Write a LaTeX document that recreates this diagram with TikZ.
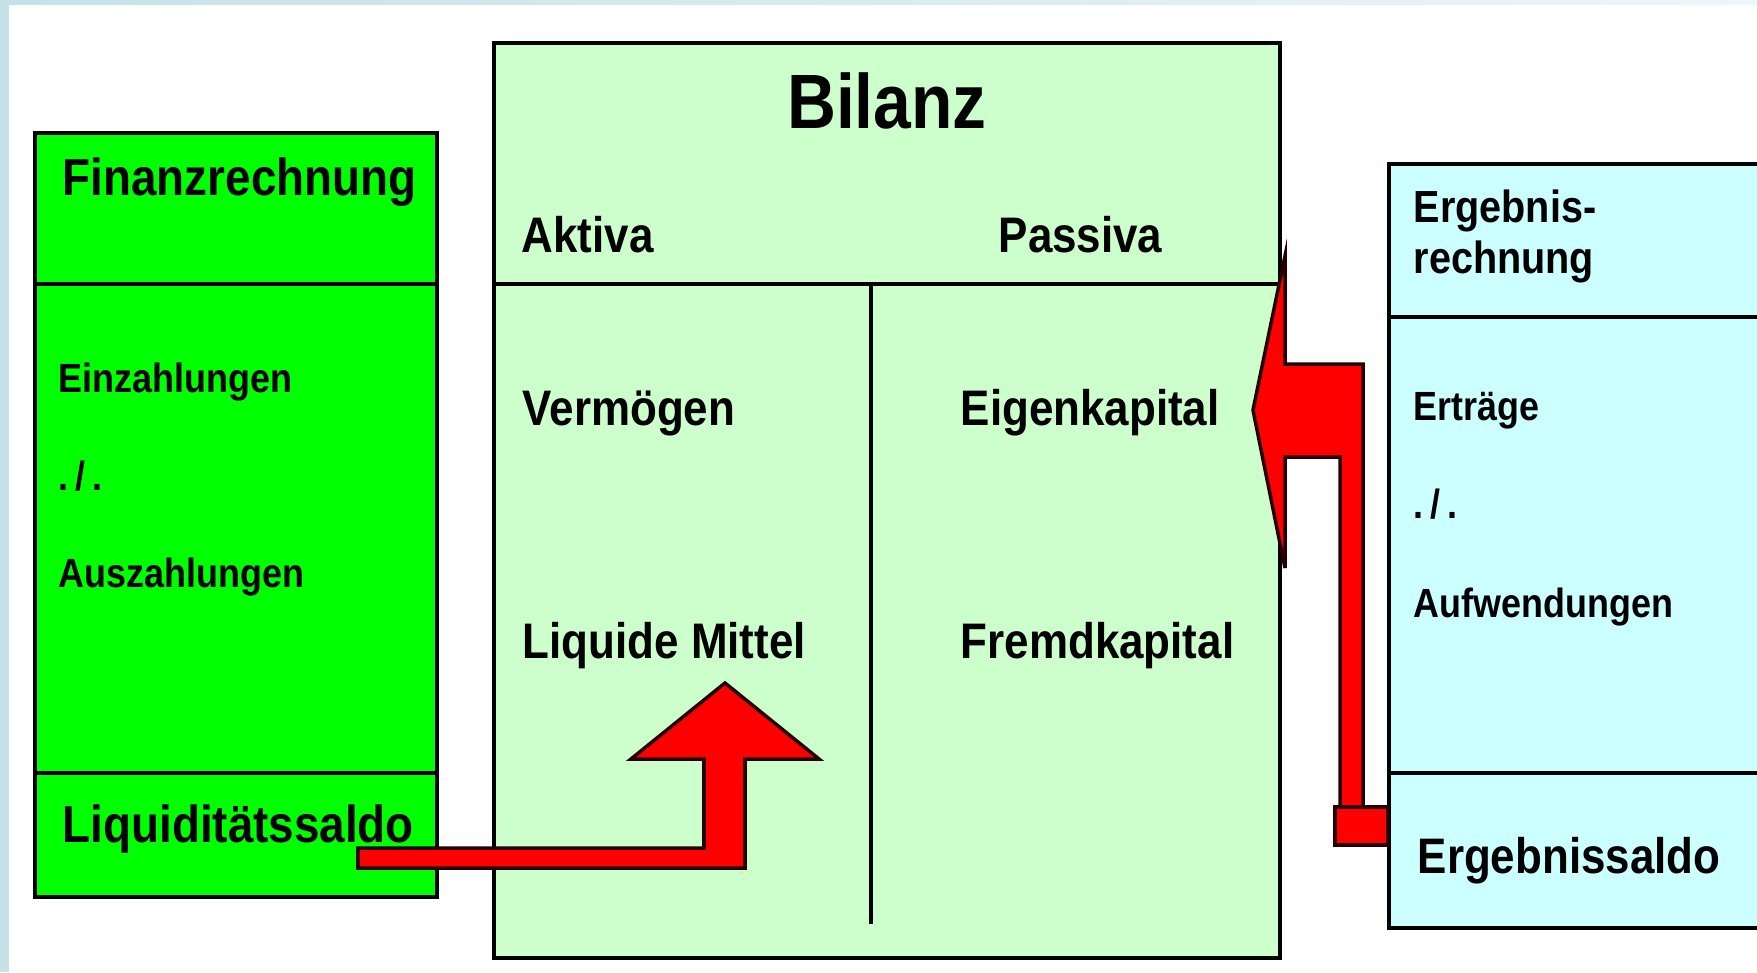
\documentclass[tikz,border=0pt]{standalone}
\usepackage{fontspec}
\setmainfont{Liberation Sans}[FakeStretch=0.88]
\usepackage{tikz}
\definecolor{gruen}{RGB}{0,255,0}
\definecolor{vert}{RGB}{204,255,204}
\definecolor{bleu}{RGB}{204,255,255}
\definecolor{leiste}{RGB}{196,226,232}
\colorlet{pfeilrand}{red!15!black}
\newcommand\ftitel{\fontsize{21.9}{24}\selectfont\bfseries}
\newcommand\fkopf{\fontsize{14.8}{17}\selectfont\bfseries}
\newcommand\fmittel{\fontsize{14.2}{16}\selectfont\bfseries}
\newcommand\fergkopf{\fontsize{12.8}{15}\selectfont\bfseries}
\newcommand\fklein{\fontsize{11.6}{14}\selectfont\bfseries}
\tikzset{rahmen/.style={line width=1pt},
  pfeil/.style={fill=red,draw=pfeilrand,line width=1pt,line join=miter}}

\begin{document}
\begin{tikzpicture}[x=0.01cm,y=-0.01cm]%
        \clip (0,0) rectangle (1757,972);%%
        \fill[white] (0,0) rectangle (1757,972);%%
        \shade[left color=leiste,right color=leiste!30] (0,0) rectangle (1757,4);%%
        \fill[leiste] (0,0) rectangle (9,972);%%
        % Finanzrechnung
        \filldraw[rahmen,fill=gruen] (35,133) rectangle (437,897);%%
        \draw[rahmen] (35,284) -- (437,284);%%
        \draw[rahmen] (35,773) -- (437,773);%%
        % Bilanz
        \filldraw[rahmen,fill=vert] (494,43) rectangle (1280,958);%%
        \draw[rahmen] (494,284) -- (1280,284);%%
        \draw[rahmen] (871,284) -- (871,924);%%
        % Ergebnisrechnung
        \filldraw[rahmen,fill=bleu] (1389,164) rectangle (1800,928);%%
        \draw[rahmen] (1389,317) -- (1800,317);%%
        \draw[rahmen] (1389,773) -- (1800,773);%%
        \begin{scope}[anchor=base west,inner sep=0pt]
        \tikzstyle{every node}=[font=\fmittel] %%
        \node[font=\fkopf] (fin) at (62,195) {Finanzrechnung}; %%
        \node[font=\fklein] (ein) at (58,392) {Einzahlungen}; %%
        \node[font=\fklein] (fminus) at (58,490) {.\hspace{2pt}/\hspace{2pt}.}; %%
        \node[font=\fklein] (aus) at (58,587) {Auszahlungen}; %%
        \node[font=\fkopf] (lsaldo) at (62,842) {Liquiditätssaldo}; %%
        \node[font=\ftitel,anchor=base] (bil) at (887,128) {Bilanz}; %%
        \node (akt) at (521,252) {Aktiva}; %%
        \node (pas) at (998,252) {Passiva}; %%
        \node (verm) at (522,425) {Vermögen}; %%
        \node (eigen) at (960,425) {Eigenkapital}; %%
        \node (liq) at (522,658) {Liquide Mittel}; %%
        \node (fremd) at (960,658) {Fremdkapital}; %%
        \node[font=\fergkopf] (erg1) at (1413,222) {Ergebnis-}; %%
        \node[font=\fergkopf] (erg2) at (1413,273) {rechnung}; %%
        \node[font=\fklein] (ertr) at (1413,420) {Erträge}; %%
        \node[font=\fklein] (eminus) at (1413,518) {.\hspace{2pt}/\hspace{2pt}.}; %%
        \node[font=\fklein] (aufw) at (1413,617) {Aufwendungen}; %%
        \node (esaldo) at (1417,873) {Ergebnissaldo}; %%
        \end{scope}
        % Pfeile
        \coordinate (ltail) at (358,858); %%
        \coordinate (ltip) at (725,683); %%
        \coordinate (rtail) at (1361,826); %%
        \coordinate (rtip) at (1253,410); %%
        \filldraw[pfeil] (ltail) ++(0,-10) -- ++(346,0) -- ++(0,-89) -- ++(-73,0) -- (ltip) -- ++(94,76) -- ++(-74,0) -- ++(0,109) -- ++(-387,0) -- cycle; %%
        \filldraw[pfeil] (rtail) ++(-21,-19) -- ++(0,-350) -- ++(-55,0) -- ++(0,111) -- (rtip) -- ++(32,-154) -- ++(0,108) -- ++(78,0) -- ++(0,443) -- cycle; %%
        \filldraw[pfeil] (rtail) ++(-26,-19) rectangle ++(53,38); %%
\end{tikzpicture}
\end{document}
